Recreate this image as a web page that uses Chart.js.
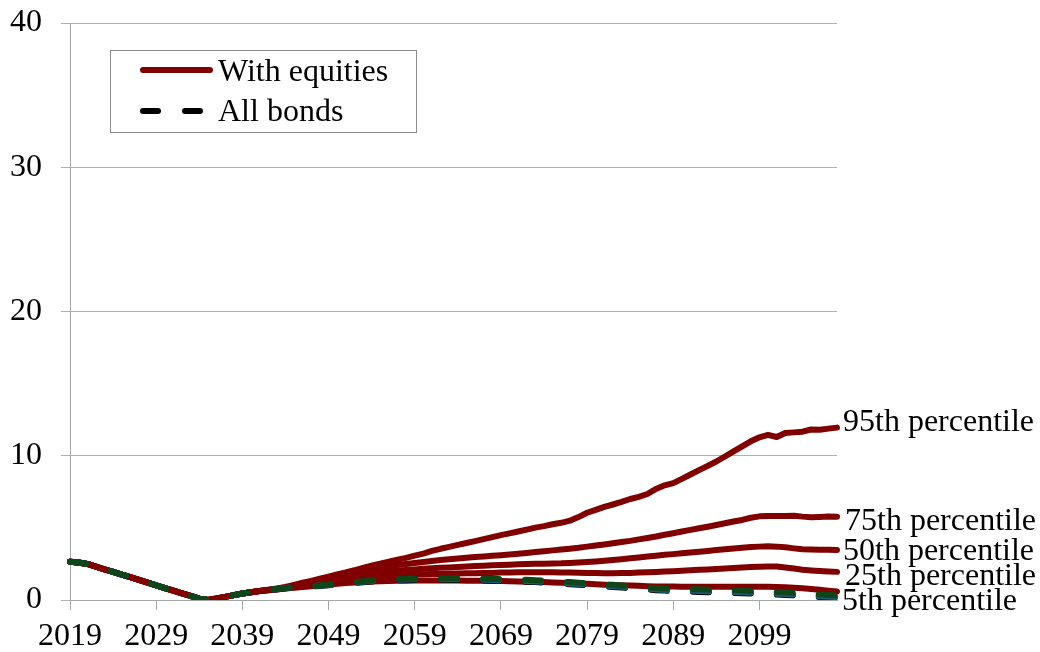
<!DOCTYPE html>
<html>
<head>
<meta charset="utf-8">
<script src="https://cdn.jsdelivr.net/npm/chart.js@4/dist/chart.umd.min.js"></script>
<style>
  html, body { margin: 0; padding: 0; background: #fff; }
  #wrap { width: 1040px; height: 652px; }
</style>
</head>
<body>
<div id="wrap"><canvas id="myChart" width="1040" height="652"></canvas></div>
<script>
// years 2019..2108
var years = [];
for (var y = 2019; y <= 2108; y++) years.push(String(y));

// shared path 2019-2041 (all series identical)
var common = [2.65, 2.6, 2.5, 2.32, 2.13, 1.95, 1.76, 1.58, 1.39, 1.2,
  1.02, 0.83, 0.65, 0.46, 0.28, 0.09, 0.0, 0.1, 0.22, 0.34, 0.45, 0.54, 0.62];

// 2042-2108, with equities
var eq95 = [0.72, 0.8, 0.9, 1.05, 1.2, 1.33, 1.47, 1.62, 1.78, 1.92,
  2.06, 2.22, 2.38, 2.52, 2.65, 2.8, 2.92, 3.08, 3.22, 3.4,
  3.55, 3.68, 3.82, 3.95, 4.08, 4.22, 4.36, 4.5, 4.62, 4.75,
  4.88, 5.02, 5.12, 5.25, 5.35, 5.5, 5.75, 6.05, 6.25, 6.45,
  6.62, 6.8, 7.0, 7.15, 7.35, 7.7, 7.95, 8.1, 8.4, 8.7,
  9.0, 9.3, 9.6, 9.95, 10.3, 10.65, 11.0, 11.28, 11.45, 11.3,
  11.58, 11.62, 11.67, 11.82, 11.8, 11.88, 11.95];
var eq75 = [0.7, 0.78, 0.86, 0.97, 1.1, 1.25, 1.4, 1.55, 1.7, 1.83,
  1.96, 2.08, 2.2, 2.28, 2.36, 2.43, 2.5, 2.57, 2.64, 2.71,
  2.78, 2.83, 2.88, 2.93, 2.98, 3.02, 3.07, 3.11, 3.15, 3.2,
  3.26, 3.32, 3.38, 3.44, 3.5, 3.56, 3.62, 3.7, 3.78, 3.85,
  3.93, 4.02, 4.1, 4.2, 4.3, 4.4, 4.52, 4.63, 4.75, 4.86,
  4.97, 5.08, 5.2, 5.32, 5.44, 5.55, 5.7, 5.8, 5.83, 5.83,
  5.83, 5.84, 5.78, 5.74, 5.76, 5.79, 5.77];
var eq50 = [0.69, 0.76, 0.84, 0.93, 1.03, 1.14, 1.25, 1.36, 1.47, 1.58,
  1.68, 1.78, 1.87, 1.93, 1.99, 2.04, 2.08, 2.12, 2.16, 2.2,
  2.23, 2.26, 2.29, 2.32, 2.35, 2.38, 2.41, 2.43, 2.45, 2.47,
  2.49, 2.51, 2.52, 2.53, 2.54, 2.57, 2.6, 2.63, 2.67, 2.72,
  2.77, 2.83, 2.89, 2.95, 3.01, 3.07, 3.13, 3.18, 3.24, 3.3,
  3.35, 3.4, 3.46, 3.52, 3.57, 3.62, 3.67, 3.7, 3.72, 3.7,
  3.65, 3.58, 3.52, 3.5, 3.49, 3.48, 3.47];
var eq25 = [0.68, 0.75, 0.82, 0.9, 0.98, 1.07, 1.16, 1.25, 1.34, 1.43,
  1.51, 1.58, 1.63, 1.67, 1.7, 1.72, 1.74, 1.76, 1.78, 1.8,
  1.81, 1.82, 1.84, 1.85, 1.86, 1.87, 1.88, 1.9, 1.91, 1.92,
  1.93, 1.93, 1.93, 1.92, 1.91, 1.9, 1.89, 1.88, 1.87, 1.86,
  1.86, 1.87, 1.88, 1.9, 1.92, 1.94, 1.97, 2.0, 2.03, 2.06,
  2.09, 2.12, 2.15, 2.18, 2.21, 2.25, 2.28, 2.31, 2.33, 2.32,
  2.25, 2.18, 2.1, 2.05, 2.01, 1.98, 1.95];
var eq5 = [0.67, 0.73, 0.79, 0.85, 0.9, 0.96, 1.02, 1.08, 1.13, 1.18,
  1.22, 1.25, 1.28, 1.3, 1.32, 1.33, 1.34, 1.35, 1.35, 1.35,
  1.35, 1.35, 1.35, 1.34, 1.34, 1.33, 1.32, 1.31, 1.3, 1.29,
  1.27, 1.26, 1.24, 1.22, 1.19, 1.17, 1.15, 1.12, 1.09, 1.06,
  1.04, 1.02, 1.0, 0.98, 0.96, 0.94, 0.93, 0.93, 0.92, 0.92,
  0.92, 0.92, 0.92, 0.92, 0.92, 0.92, 0.92, 0.92, 0.91, 0.9,
  0.88, 0.85, 0.82, 0.77, 0.71, 0.65, 0.59];

// 2042-2108, all bonds
var bondHi = [0.7, 0.77, 0.84, 0.89, 0.93, 0.97, 1.01, 1.07, 1.13, 1.19,
  1.25, 1.3, 1.35, 1.39, 1.42, 1.45, 1.47, 1.48, 1.49, 1.5,
  1.5, 1.5, 1.5, 1.49, 1.48, 1.47, 1.46, 1.45, 1.43, 1.42,
  1.4, 1.37, 1.34, 1.31, 1.28, 1.24, 1.2, 1.16, 1.12, 1.08,
  1.05, 1.01, 0.96, 0.91, 0.87, 0.83, 0.8, 0.78, 0.77, 0.75,
  0.74, 0.72, 0.7, 0.68, 0.67, 0.65, 0.63, 0.61, 0.59, 0.56,
  0.53, 0.5, 0.46, 0.42, 0.38, 0.35, 0.32];
var bondMid = [0.69, 0.76, 0.83, 0.87, 0.91, 0.95, 0.99, 1.04, 1.1, 1.16,
  1.21, 1.26, 1.31, 1.35, 1.38, 1.4, 1.42, 1.43, 1.44, 1.44,
  1.44, 1.44, 1.43, 1.42, 1.41, 1.4, 1.39, 1.37, 1.35, 1.34,
  1.32, 1.29, 1.26, 1.23, 1.19, 1.15, 1.11, 1.07, 1.03, 0.99,
  0.95, 0.91, 0.86, 0.81, 0.77, 0.73, 0.7, 0.67, 0.66, 0.64,
  0.62, 0.6, 0.58, 0.56, 0.55, 0.53, 0.51, 0.49, 0.47, 0.44,
  0.41, 0.38, 0.34, 0.3, 0.26, 0.23, 0.2];
var bondLo = [0.68, 0.75, 0.82, 0.86, 0.9, 0.93, 0.97, 1.02, 1.08, 1.13,
  1.18, 1.23, 1.28, 1.32, 1.35, 1.37, 1.39, 1.4, 1.4, 1.4,
  1.4, 1.4, 1.39, 1.38, 1.37, 1.36, 1.35, 1.33, 1.31, 1.29,
  1.27, 1.24, 1.21, 1.18, 1.14, 1.1, 1.06, 1.02, 0.98, 0.94,
  0.9, 0.86, 0.81, 0.76, 0.72, 0.68, 0.65, 0.62, 0.6, 0.58,
  0.56, 0.54, 0.52, 0.5, 0.49, 0.47, 0.45, 0.43, 0.41, 0.38,
  0.35, 0.32, 0.28, 0.24, 0.2, 0.17, 0.14];

var pctLabels = ['95th percentile', '75th percentile', '50th percentile', '25th percentile', '5th percentile'];
var yTicks = [0, 10, 20, 30, 40];

var RED = '#800000';
var FONT = "'Liberation Serif', 'Times New Roman', serif";

function redLine(tail, lbl) {
  return { label: lbl, data: common.concat(tail), borderColor: RED, borderWidth: 6,
    pointRadius: 0, tension: 0, borderCapStyle: 'round', borderJoinStyle: 'round', fill: false };
}
function bondLine(tail, col, w) {
  return { label: 'All bonds', data: common.concat(tail), borderColor: col, borderWidth: w,
    borderDash: [16, 26], borderCapStyle: 'round', pointRadius: 0, tension: 0, fill: false };
}

// legend box + right-hand percentile labels
var extras = {
  id: 'extras',
  afterDraw: function(chart) {
    var ctx = chart.ctx, ys = chart.scales.y;
    ctx.save();
    ctx.fillStyle = '#fff';
    ctx.fillRect(110.5, 50.5, 306, 82);
    ctx.strokeStyle = '#8c8c8c';
    ctx.lineWidth = 1;
    ctx.strokeRect(110.5, 50.5, 306, 82);
    ctx.lineCap = 'round';
    ctx.lineWidth = 6;
    ctx.strokeStyle = RED;
    ctx.beginPath(); ctx.moveTo(143, 70); ctx.lineTo(210, 70); ctx.stroke();
    ctx.strokeStyle = '#000';
    ctx.beginPath(); ctx.moveTo(143, 111); ctx.lineTo(158, 111); ctx.stroke();
    ctx.beginPath(); ctx.moveTo(185, 111); ctx.lineTo(200, 111); ctx.stroke();
    ctx.fillStyle = '#000';
    ctx.font = '32px ' + FONT;
    ctx.textBaseline = 'alphabetic';
    ctx.fillText('With equities', 218, 81);
    ctx.fillText('All bonds', 218, 121);

    // labels next to the last point of each equity line
    var nudge = [-7, 3, 0, 3, 9];
    var xs = [843, 845, 843, 845, 842];
    for (var i = 0; i < 5; i++) {
      var d = chart.data.datasets[3 + i].data;
      var py = ys.getPixelForValue(d[d.length - 1]) + nudge[i];
      ctx.fillText(pctLabels[i], xs[i], py + 10);
    }
    ctx.restore();
  }
};

new Chart(document.getElementById('myChart').getContext('2d'), {
  type: 'line',
  data: {
    labels: years,
    datasets: [
      bondLine(bondHi, '#0f4519', 6),
      bondLine(bondMid, '#1d5a7c', 6),
      bondLine(bondLo, '#000000', 6),
      redLine(eq95, '95th'),
      redLine(eq75, '75th'),
      redLine(eq50, '50th'),
      redLine(eq25, '25th'),
      redLine(eq5, '5th')
    ]
  },
  options: {
    responsive: false,
    animation: false,
    layout: { padding: { top: 23, right: 203, left: 0, bottom: 0 } },
    plugins: { legend: { display: false }, tooltip: { enabled: false } },
    scales: {
      x: {
        type: 'category',
        offset: false,
        afterBuildTicks: function(s) { s.ticks = s.ticks.filter(function(t, i) { return i % 10 === 0; }); },
        afterFit: function(s) { s.height = 52; s.paddingLeft = 0; s.paddingRight = 0; },
        grid: { display: true, drawOnChartArea: false, drawTicks: true, tickLength: 10, color: '#a6a6a6' },
        border: { display: true, color: '#a6a6a6' },
        ticks: { autoSkip: false, maxRotation: 0, padding: 7, color: '#000', font: { family: FONT, size: 32 } }
      },
      y: {
        min: 0, max: 40,
        afterBuildTicks: function(s) { s.ticks = yTicks.map(function(v) { return { value: v }; }); },
        afterFit: function(s) { s.width = 70; s.paddingTop = 0; s.paddingBottom = 0; },
        grid: { color: '#b0b0b0', tickLength: 9, drawTicks: true },
        border: { display: true, color: '#a6a6a6' },
        ticks: { padding: 19, color: '#000', font: { family: FONT, size: 32 } }
      }
    }
  },
  plugins: [extras]
});
</script>
</body>
</html>
